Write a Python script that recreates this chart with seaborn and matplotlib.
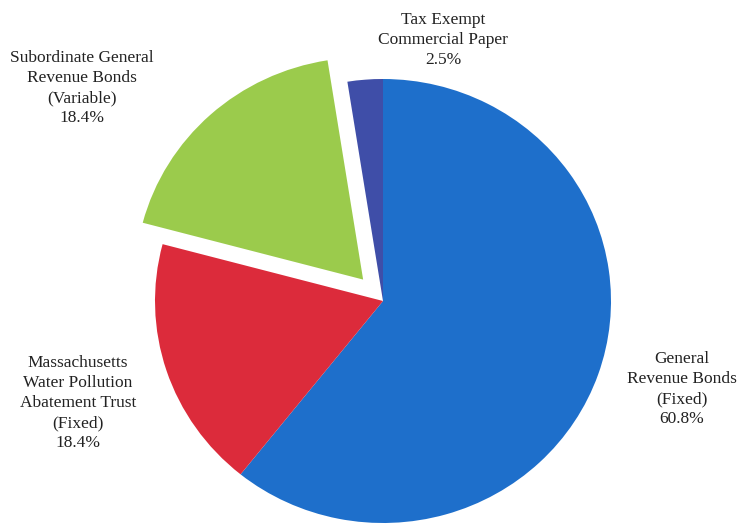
import matplotlib
matplotlib.use("Agg")
import matplotlib.pyplot as plt
import seaborn as sns

# Debt portfolio composition
categories = [
    "General\nRevenue Bonds\n(Fixed)",
    "Massachusetts\nWater Pollution\nAbatement Trust\n(Fixed)",
    "Subordinate General\nRevenue Bonds\n(Variable)",
    "Tax Exempt\nCommercial Paper",
]
shares = [60.8, 18.4, 18.4, 2.5]
colors = ["#1E6FCB", "#DC2B3B", "#9BCB4C", "#3F4EA8"]
explode = [0, 0, 0.13, 0]

sns.set_theme(style="white")
plt.rcParams["font.family"] = ["Liberation Serif", "DejaVu Serif"]

W, H = 744, 527
fig = plt.figure(figsize=(W / 100, H / 100), dpi=100)
cx, cy, rx, ry = 383, 301, 228, 222
ax = fig.add_axes([(cx - rx) / W, (H - cy - ry) / H, 2 * rx / W, 2 * ry / H])

wedges, _ = ax.pie(
    shares,
    colors=colors,
    explode=explode,
    startangle=90,
    counterclock=False,
    wedgeprops=dict(linewidth=0),
)
for w in wedges:
    w.set_clip_on(False)
ax.set_aspect("auto")
ax.set_xlim(-1, 1)
ax.set_ylim(-1, 1)
ax.axis("off")

# Category labels with percentages
label_pos = [(682, 389), (78, 403), (82, 88), (443, 40)]
for name, val, (px, py) in zip(categories, shares, label_pos):
    fig.text(
        px / W, 1 - py / H, f"{name}\n{val:.1f}%",
        ha="center", va="center", fontsize=12.5, color="#222222",
        linespacing=1.35,
    )

fig.savefig("out.png", dpi=100, facecolor="white")
